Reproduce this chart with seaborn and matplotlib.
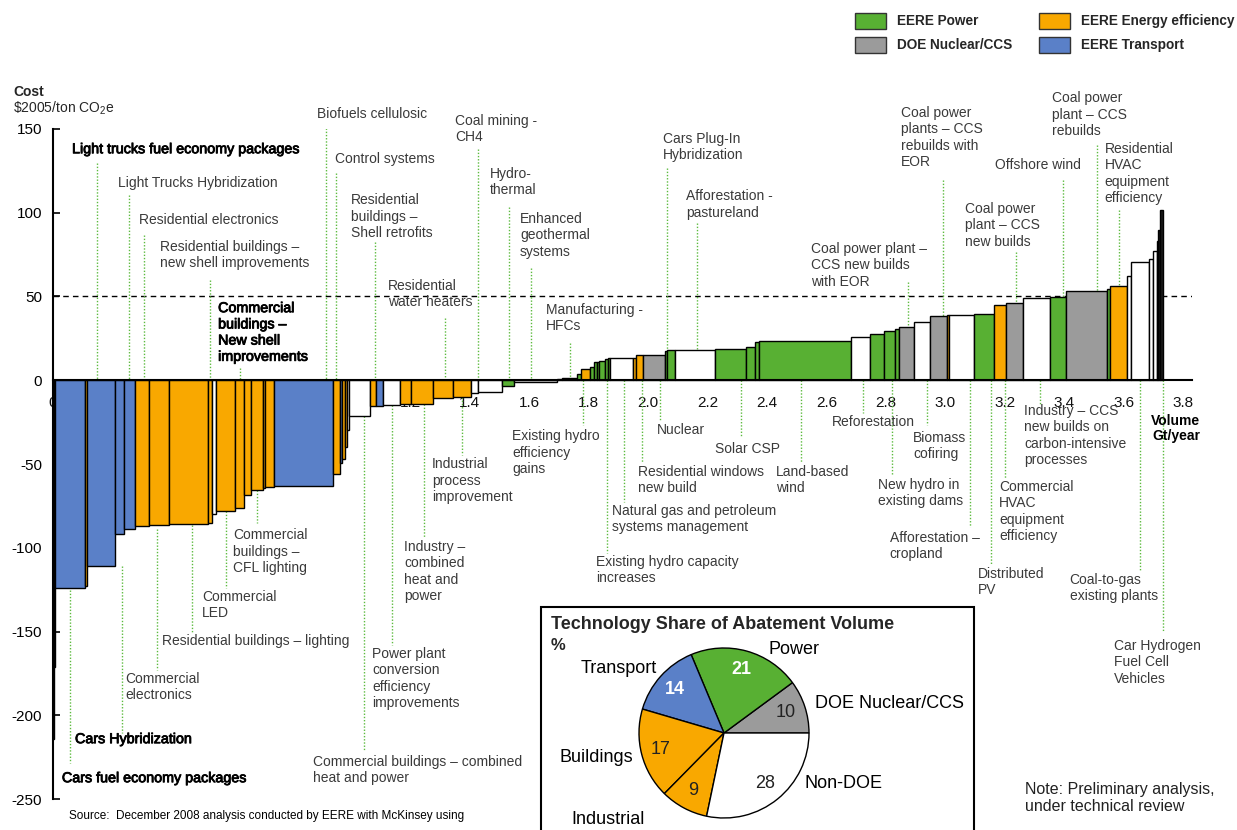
import numpy as np
import pandas as pd
import seaborn as sns
import matplotlib.pyplot as plt
import matplotlib.patheffects as pe
from matplotlib.patches import Rectangle
from matplotlib.ticker import FuncFormatter

# --- style ---
sns.set_theme(style="white")
plt.rcParams['font.family'] = ['Liberation Sans', 'DejaVu Sans']
plt.rcParams['mathtext.fontset'] = 'custom'
plt.rcParams['mathtext.rm'] = 'Liberation Sans'
plt.rcParams['mathtext.it'] = 'Liberation Sans'
plt.rcParams['mathtext.bf'] = 'Liberation Sans:bold'
plt.rcParams['axes.unicode_minus'] = False

W, H = 1237, 830

# --- cost curve data (volume Gt/yr, cost $/t CO2e, program) ---
widths = [0.004, 0.004, 0.101, 0.005, 0.095, 0.029, 0.038, 0.048, 0.066, 0.130,
          0.015, 0.013, 0.064, 0.031, 0.023, 0.039, 0.009, 0.028, 0.198, 0.025,
          0.008, 0.010, 0.006, 0.005, 0.072, 0.019, 0.024, 0.058, 0.037, 0.075,
          0.067, 0.058, 0.026, 0.078, 0.043, 0.142, 0.019, 0.051, 0.013, 0.030,
          0.012, 0.011, 0.008, 0.017, 0.011, 0.009, 0.075, 0.011, 0.022, 0.075,
          0.007, 0.028, 0.133, 0.104, 0.032, 0.013, 0.309, 0.065, 0.044, 0.038,
          0.013, 0.050, 0.056, 0.058, 0.006, 0.083, 0.069, 0.039, 0.056, 0.091,
          0.054, 0.139, 0.011, 0.056, 0.014, 0.058, 0.014, 0.013, 0.006, 0.007,
          0.008]
costs = [-214, -171, -124, -123, -111, -91.5, -89, -87, -86.4, -85.8,
         -85.2, -80, -77.8, -76.2, -68.7, -65.3, -64.5, -63.7, -63.3, -55.9,
         -49.7, -47.2, -40, -30, -21.5, -15.5, -15.2, -14.5, -14.2, -13.9,
         -10.3, -10.0, -7.6, -7.0, -3.4, -1.0, 0.8, 1.2, 3.5, 6.8,
         8.2, 10.6, 11.0, 11.3, 12.5, 13.1, 13.3, 13.5, 14.9, 15.0,
         17.7, 18.3, 18.3, 18.9, 19.9, 22.7, 23.7, 25.9, 27.7, 29.7,
         30.7, 31.5, 35.0, 38.4, 38.8, 39.2, 39.8, 45.2, 46.4, 49.4,
         49.8, 53.5, 54.7, 56.3, 62.3, 70.6, 72.6, 77.2, 83.0, 89.6,
         101.9]
groups = ['other', 'other', 'transport', 'efficiency', 'transport', 'transport', 'transport',
          'efficiency', 'efficiency', 'efficiency', 'efficiency', 'nondoe', 'efficiency',
          'efficiency', 'efficiency', 'efficiency', 'efficiency', 'efficiency', 'transport',
          'efficiency', 'transport', 'efficiency', 'efficiency', 'nondoe', 'nondoe',
          'efficiency', 'transport', 'nondoe', 'efficiency', 'efficiency', 'efficiency',
          'efficiency', 'nondoe', 'nondoe', 'power', 'nondoe', 'nondoe', 'efficiency',
          'power', 'efficiency', 'power', 'power', 'power', 'power', 'power', 'power',
          'nondoe', 'efficiency', 'efficiency', 'nuclear', 'power', 'power', 'nondoe',
          'power', 'power', 'power', 'power', 'nondoe', 'power', 'power', 'power',
          'nuclear', 'nondoe', 'nuclear', 'efficiency', 'nondoe', 'power', 'efficiency',
          'nuclear', 'nondoe', 'power', 'nuclear', 'power', 'efficiency', 'nondoe',
          'nondoe', 'nondoe', 'nondoe', 'transport', 'other', 'other']

# --- pie inset data ---
pie_labels = ['DOE Nuclear/CCS', 'Power', 'Transport', 'Buildings', 'Industrial', 'Non-DOE']
pie_shares = [10, 21, 14, 17, 9, 28]
pie_groups = ['nuclear', 'power', 'transport', 'efficiency', 'efficiency', 'nondoe']

legend_items = [('EERE Power', 'power'), ('DOE Nuclear/CCS', 'nuclear'),
                ('EERE Energy efficiency', 'efficiency'), ('EERE Transport', 'transport')]

COLORS = {'power': '#58B033', 'nuclear': '#9B9B9B', 'efficiency': '#F9A800',
          'transport': '#5A80C8', 'nondoe': '#FFFFFF', 'other': '#1a1a1a'}
LEADER = '#5DBB3F'
TXT = '#3a3a3a'

# label text, text x, text top, leader x, leader top, leader bottom, emphasised
above = [
    ("Light trucks fuel economy packages", 0.064, 142.1, 0.148, 129.6, 0, True),
    ("Light Trucks Hybridization", 0.218, 121.8, 0.255, 110.4, 0, False),
    ("Residential electronics", 0.289, 99.7, 0.306, 86.6, 0, False),
    ("Residential buildings –\nnew shell improvements", 0.360, 83.6, 0.528, 59.7, 0, False),
    ("Commercial\nbuildings –\nNew shell\nimprovements", 0.555, 47.2, 0.629, 7.2, 0, True),
    ("Biofuels cellulosic", 0.887, 163.0, 0.918, 150.4, 0, False),
    ("Control systems", 0.948, 136.1, 0.951, 123.6, 0, False),
    ("Residential\nbuildings –\nShell retrofits", 1.002, 111.6, 1.082, 82.4, 0, False),
    ("Residential\nwater heaters", 1.126, 60.3, 1.318, 37.0, 0, False),
    ("Coal mining -\nCH4", 1.351, 158.8, 1.429, 137.9, 0, False),
    ("Hydro-\nthermal", 1.469, 127.2, 1.533, 103.3, 0, False),
    ("Enhanced\ngeothermal\nsystems", 1.570, 100.3, 1.607, 66.9, 0, False),
    ("Manufacturing -\nHFCs", 1.657, 46.0, 1.738, 22.1, 1, False),
    ("Cars Plug-In\nHybridization", 2.050, 148.1, 2.064, 126.6, 17.9, False),
    ("Afforestation -\npastureland", 2.128, 114.0, 2.165, 93.7, 18.3, False),
    ("Coal power plant –\nCCS new builds\nwith EOR", 2.548, 82.4, 2.874, 58.5, 31.6, False),
    ("Coal power\nplants – CCS\nrebuilds with\nEOR", 2.850, 163.6, 2.992, 119.4, 38.4, False),
    ("Offshore wind", 3.166, 132.5, 3.395, 119.4, 49.8, False),
    ("Coal power\nplant – CCS\nnew builds", 3.066, 106.3, 3.237, 76.4, 46.4, False),
    ("Coal power\nplant – CCS\nrebuilds", 3.358, 172.5, 3.509, 140.3, 53.5, False),
    ("Residential\nHVAC\nequipment\nefficiency", 3.536, 142.1, 3.583, 101.5, 56.3, False),
]
below = [
    ("Cars fuel economy packages", 0.030, -233.4, 0.057, -125.4, -228.7, True),
    ("Cars Hybridization", 0.074, -210.1, 0.232, -111, -210.7, True),
    ("Commercial\nelectronics", 0.242, -174.3, 0.350, -89, -173, False),
    ("Residential buildings – lighting", 0.366, -151.6, 0.467, -86.5, -150, False),
    ("Commercial\nLED", 0.501, -125.4, 0.581, -78, -124, False),
    ("Commercial\nbuildings –\nCFL lighting", 0.605, -88.4, 0.687, -65.3, -85.4, False),
    ("Commercial buildings – combined\nheat and power", 0.874, -223.9, 1.045, -21.5, -220.9, False),
    ("Power plant\nconversion\nefficiency\nimprovements", 1.072, -159.4, 1.139, -14.5, -158.2, False),
    ("Industry –\ncombined\nheat and\npower", 1.180, -95.5, 1.247, -14, -94.3, False),
    ("Industrial\nprocess\nimprovement", 1.274, -46.0, 1.375, -10.2, -44.8, False),
    ("Existing hydro\nefficiency\ngains", 1.543, -29.3, 1.782, 0, -26.9, False),
    ("Existing hydro capacity\nincreases", 1.825, -104.5, 1.864, 0, -103.3, False),
    ("Natural gas and petroleum\nsystems management", 1.879, -74.0, 1.918, 0, -72.8, False),
    ("Residential windows\nnew build", 1.966, -50.7, 1.979, 0, -49.6, False),
    ("Nuclear", 2.030, -25.7, 2.040, 0, -23.9, False),
    ("Solar CSP", 2.225, -37.0, 2.312, 0, -34.0, False),
    ("Land-based\nwind", 2.430, -50.7, 2.516, 0, -49.6, False),
    ("Reforestation", 2.618, -20.9, 2.723, 0, -19.5, False),
    ("New hydro in\nexisting dams", 2.773, -58.5, 2.819, 0, -56.7, False),
    ("Biomass\ncofiring", 2.891, -30.4, 2.937, 0, -26.9, False),
    ("Afforestation –\ncropland", 2.813, -90.1, 3.082, 0, -87.8, False),
    ("Distributed\nPV", 3.109, -111.6, 3.152, 0, -110.4, False),
    ("Commercial\nHVAC\nequipment\nefficiency", 3.180, -59.7, 3.200, 0, -58.5, False),
    ("Industry – CCS\nnew builds on\ncarbon-intensive\nprocesses", 3.264, -14.3, 3.318, 0, -14.9, False),
    ("Coal-to-gas\nexisting plants", 3.418, -115.2, 3.654, 0, -113.4, False),
    ("Car Hydrogen\nFuel Cell\nVehicles", 3.566, -154.6, 3.731, 0, -150.4, False),
]

df = pd.DataFrame({'width': widths, 'cost': costs, 'group': groups})
df['left'] = df['width'].cumsum() - df['width']

# --- figure ---
fig = plt.figure(figsize=(W / 100, H / 100), dpi=100)
ax = fig.add_axes([53 / W, 31 / H, (1192 - 53) / W, 670 / H])
ax.set_zorder(0)

ax.bar(df['left'], df['cost'], width=df['width'], align='edge',
       color=df['group'].map(COLORS), edgecolor='black', linewidth=1.0, zorder=2)
ax.axhline(50, color='black', linestyle=(0, (4, 3)), linewidth=1.0, zorder=1)

ax.set_xlim(0, 3.829)
ax.set_ylim(-250, 150)
sns.despine(ax=ax)
ax.spines['bottom'].set_position(('data', 0))
for side in ('bottom', 'left'):
    ax.spines[side].set_linewidth(1.5)
    ax.spines[side].set_color('black')
ax.spines['bottom'].set_zorder(3)

ax.set_xticks(np.round(np.arange(0, 3.81, 0.2), 1))
ax.xaxis.set_major_formatter(FuncFormatter(lambda v, p: '0' if v == 0 else f'{v:.1f}'))
ax.tick_params(axis='x', length=0, pad=11, labelsize=11, labelcolor='#111111')
ax.set_yticks(np.arange(-250, 151, 50))
ax.tick_params(axis='y', direction='in', length=5, width=1.2, color='black',
               pad=8, labelsize=11, labelcolor='black', left=True)
ax.grid(False)

emph = [pe.withStroke(linewidth=0.6, foreground='black')]
for text, tx, ty, lx, l0, l1, strong in above + below:
    ax.plot([lx, lx], [l0, l1], color=LEADER, linewidth=1.0, linestyle=(0, (1, 1.3)), zorder=1)
    t = ax.text(tx, ty, text, ha='left', va='top', fontsize=10.3 if strong else 10,
                linespacing=1.2, color='black' if strong else TXT, zorder=4)
    if strong:
        t.set_path_effects(emph)

ax.text(3.856, -20.3, "Volume\nGt/year", ha='right', va='top', fontsize=10,
        fontweight='bold', multialignment='right', linespacing=1.1, color='black')

# axis title
fig.text(13 / W, 1 - 92 / H, "Cost", fontsize=10, fontweight='bold', va='center')
fig.text(13 / W, 1 - 108 / H, r"\$2005/ton CO$_2$e", fontsize=10, va='center')

# legend
for i, (lab, g) in enumerate(legend_items):
    x0 = [855, 1039][i // 2]
    y0 = [13, 37][i % 2]
    fig.add_artist(Rectangle((x0 / W, 1 - (y0 + 16) / H), 31 / W, 16 / H, transform=fig.transFigure,
                             facecolor=COLORS[g], edgecolor='#333333', linewidth=1.0))
    fig.text((x0 + 42) / W, 1 - (y0 + 8) / H, lab, fontsize=9.8, fontweight='bold', va='center')

# pie inset box
fig.add_artist(Rectangle((541 / W, -0.05), (974 - 541) / W, (830 - 607) / H + 0.05,
                         transform=fig.transFigure, facecolor='white', edgecolor='black',
                         linewidth=1.5, zorder=2.5))
fig.text(551 / W, 1 - 624 / H, "Technology Share of Abatement Volume", fontsize=13,
         fontweight='bold', va='center', zorder=5)
fig.text(551 / W, 1 - 645 / H, "%", fontsize=12, fontweight='bold', va='center', zorder=5)

pax = fig.add_axes([(724 - 85) / W, (830 - 733 - 85) / H, 170 / W, 170 / H], zorder=3)
total = sum(pie_shares)
wedges, _, autotexts = pax.pie(pie_shares, colors=[COLORS[g] for g in pie_groups],
                               startangle=0, counterclock=True,
                               autopct=lambda p: f"{p * total / 100:.0f}", pctdistance=0.77,
                               wedgeprops=dict(edgecolor='black', linewidth=1.0),
                               textprops=dict(fontsize=13, color='#222222'))
for t, g in zip(autotexts, pie_groups):
    if g in ('power', 'transport'):
        t.set_color('white')
        t.set_fontweight('bold')
pax.set_xlim(-1, 1)
pax.set_ylim(-1, 1)
pax.patch.set_alpha(0)

pie_label_pos = {'Power': (0.52, 0.98, 'left'), 'DOE Nuclear/CCS': (1.07, 0.35, 'left'),
                 'Non-DOE': (0.95, -0.59, 'left'), 'Industrial': (-1.36, -1.02, 'center'),
                 'Buildings': (-1.07, -0.29, 'right'), 'Transport': (-0.79, 0.76, 'right')}
for lab in pie_labels:
    x, y, ha = pie_label_pos[lab]
    pax.text(x, y, lab, ha=ha, va='center', fontsize=13, color='black', clip_on=False)

# notes
fig.text(1025 / W, 1 - 782 / H, "Note: Preliminary analysis,\nunder technical review",
         fontsize=11.5, va='top', linespacing=1.15, color='#222222')
fig.text(69 / W, 1 - 816 / H,
         "Source:  December 2008 analysis conducted by EERE with McKinsey using",
         fontsize=8.5, va='center', color='black')

fig.savefig('out.png', dpi=100)
